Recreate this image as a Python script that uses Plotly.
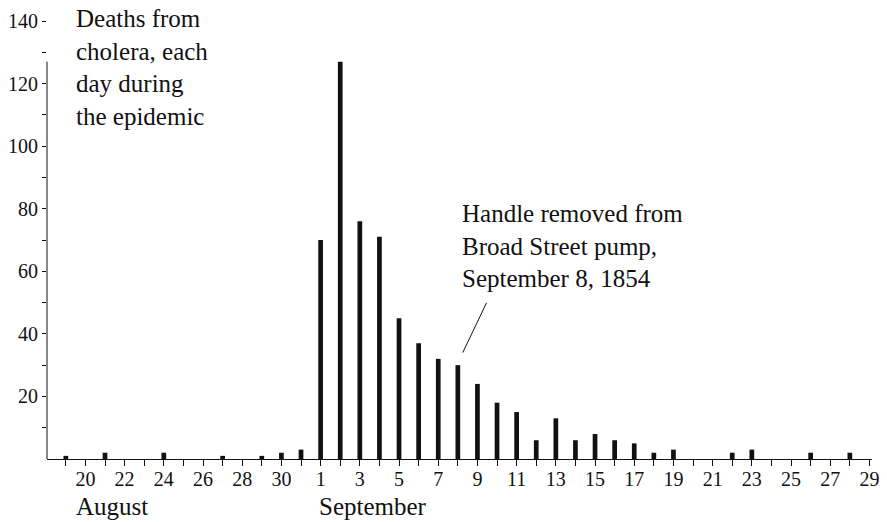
import plotly.graph_objects as go

# ---- data ----
months = ["August"] * 13 + ["September"] * 29
day_numbers = list(range(19, 32)) + list(range(1, 30))
deaths = [
    1, 0, 2, 0, 0, 2, 0, 0, 1, 0, 1, 2, 3,            # Aug 19-31
    70, 127, 76, 71, 45, 37, 32, 30, 24, 18, 15, 6,   # Sep 1-12
    13, 6, 8, 6, 5, 2, 3, 0, 0, 2, 3, 0, 0, 2, 0, 2, 0  # Sep 13-29
]
x_idx = list(range(len(deaths)))
# label every other day, starting at Aug 20
tick_labels = [str(d) if (i % 2 == 1) else "" for i, d in enumerate(day_numbers)]
y_ticks = list(range(10, 141, 10))
y_labels = [str(v) if v % 20 == 0 else "" for v in y_ticks]

annotation_day = months.index("September") + 7   # September 8
max_deaths = max(deaths)

FONT = "Liberation Serif"
INK = "#111111"

fig = go.Figure()
fig.add_trace(go.Bar(
    x=x_idx, y=deaths, width=0.24,
    marker=dict(color=INK, line=dict(width=0)),
    hoverinfo="skip",
))

fig.update_layout(
    width=887, height=522,
    margin=dict(l=46, r=8, t=21, b=63),
    paper_bgcolor="white", plot_bgcolor="white",
    showlegend=False,
    font=dict(family=FONT, color=INK, size=20),
    xaxis=dict(
        range=[-0.96, 41.13],
        tickmode="array", tickvals=x_idx, ticktext=tick_labels,
        ticks="outside", ticklen=6, tickwidth=1, tickcolor=INK,
        ticklabelstandoff=-4,
        showline=True, linecolor=INK, linewidth=1,
        showgrid=False, zeroline=False,
        tickfont=dict(family=FONT, size=20, color=INK),
        fixedrange=True,
    ),
    yaxis=dict(
        range=[0, 140],
        tickmode="array", tickvals=y_ticks, ticktext=y_labels,
        ticks="outside", ticklen=4, tickwidth=1, tickcolor=INK,
        showline=False, showgrid=False, zeroline=False,
        tickfont=dict(family=FONT, size=20, color=INK),
        fixedrange=True,
    ),
)

# range-frame y axis line: from 0 up to the data maximum
fig.add_shape(type="line", xref="paper", yref="y",
              x0=0, x1=0, y0=0, y1=max_deaths,
              line=dict(color=INK, width=1))

fig.add_annotation(
    text="Deaths from<br>cholera, each<br>day during<br>the epidemic",
    xref="paper", yref="paper", x=0.033, y=1.04,
    xanchor="left", yanchor="top", align="left", showarrow=False,
    font=dict(family=FONT, size=25, color=INK),
)

fig.add_annotation(
    text="Handle removed from<br>Broad Street pump,<br>September 8, 1854",
    xref="paper", yref="paper", x=0.5, y=0.595,
    xanchor="left", yanchor="top", align="left", showarrow=False,
    font=dict(family=FONT, size=25, color=INK),
)

# leader line to the September 8 bar
fig.add_annotation(
    text="", x=annotation_day + 0.25, y=deaths[annotation_day] + 4,
    xref="x", yref="y", axref="x", ayref="y",
    ax=annotation_day + 1.5, ay=deaths[annotation_day] + 20.4,
    showarrow=True, arrowhead=0, arrowwidth=1, arrowcolor=INK,
    standoff=0, startstandoff=0,
)

fig.add_annotation(
    text="August", xref="x", yref="paper",
    x=months.index("August") + 0.4, y=-0.108,
    xanchor="left", yanchor="middle", showarrow=False,
    font=dict(family=FONT, size=25, color=INK),
)
fig.add_annotation(
    text="September", xref="x", yref="paper",
    x=months.index("September") - 0.2, y=-0.108,
    xanchor="left", yanchor="middle", showarrow=False,
    font=dict(family=FONT, size=25, color=INK),
)

fig.write_html("out.html", config={"displayModeBar": False},
               post_script="document.body.style.margin='0px';")
